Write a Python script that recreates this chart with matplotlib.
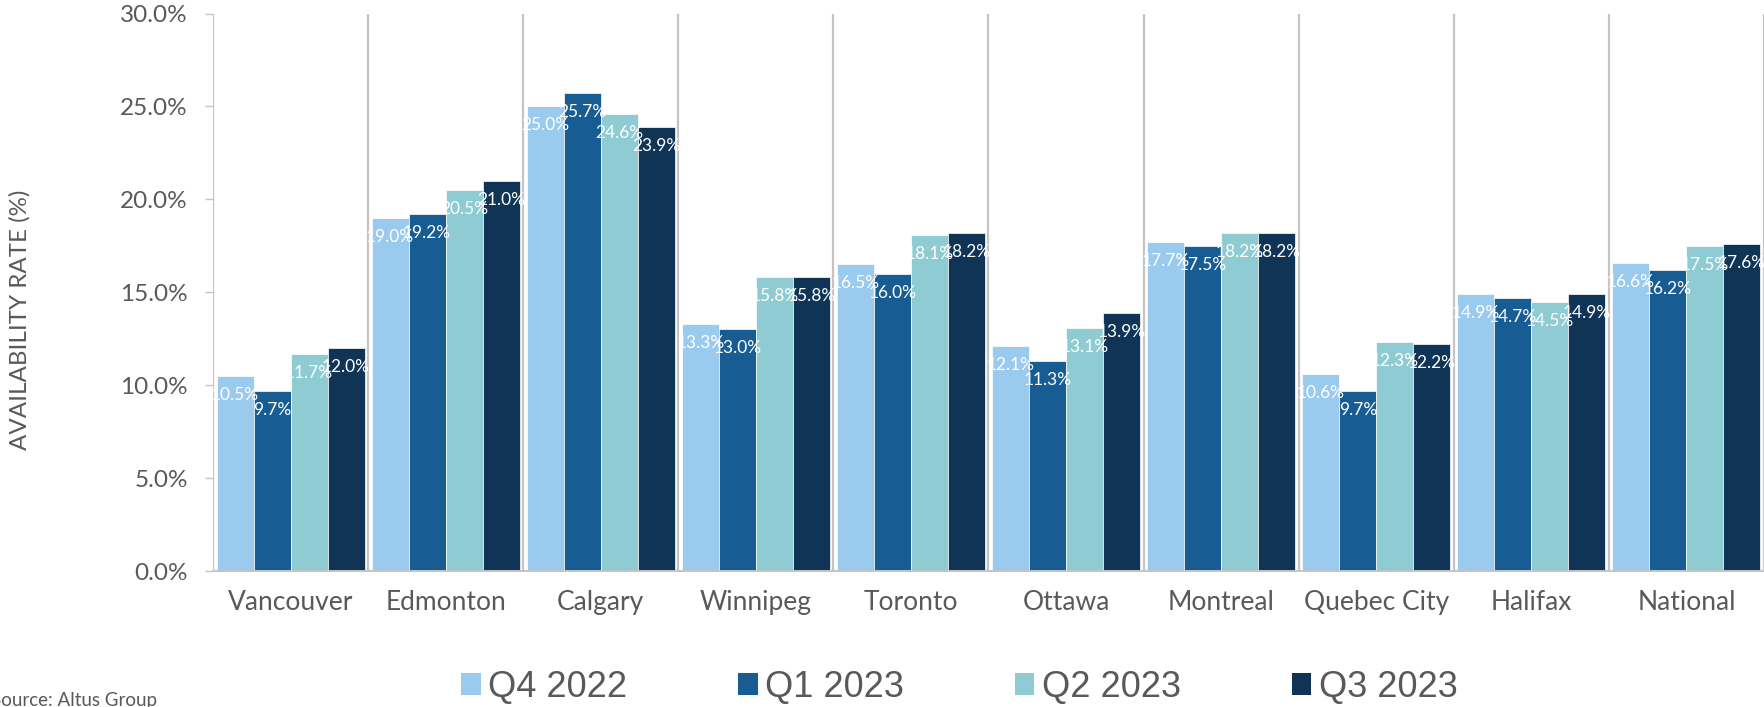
import matplotlib
matplotlib.use("Agg")
import matplotlib.pyplot as plt
import numpy as np
from matplotlib.ticker import FuncFormatter, MultipleLocator
from matplotlib.patches import Patch

categories = ["Vancouver", "Edmonton", "Calgary", "Winnipeg", "Toronto",
              "Ottawa", "Montreal", "Quebec City", "Halifax", "National"]
q4_2022 = [10.5, 19.0, 25.0, 13.3, 16.5, 12.1, 17.7, 10.6, 14.9, 16.6]
q1_2023 = [9.7, 19.2, 25.7, 13.0, 16.0, 11.3, 17.5, 9.7, 14.7, 16.2]
q2_2023 = [11.7, 20.5, 24.6, 15.8, 18.1, 13.1, 18.2, 12.3, 14.5, 17.5]
q3_2023 = [12.0, 21.0, 23.9, 15.8, 18.2, 13.9, 18.2, 12.2, 14.9, 17.6]
series_names = ["Q4 2022", "Q1 2023", "Q2 2023", "Q3 2023"]
series = [q4_2022, q1_2023, q2_2023, q3_2023]
colors = ["#9ACBEF", "#175C93", "#8FCBD2", "#0F3456"]

text_gray = "#595959"
line_gray = "#C4C4C4"

fig = plt.figure(figsize=(17.65, 7.07), dpi=100)
ax = fig.add_axes([213/1765, 1 - 571/707, (1764 - 213)/1765, (571 - 13.5)/707])

x = np.arange(len(categories))
bw = 0.2385
for i, (name, vals, c) in enumerate(zip(series_names, series, colors)):
    pos = x + (i - 1.5) * bw
    ax.bar(pos, vals, width=bw, color=c, edgecolor="white", linewidth=0.5,
           zorder=2, label=name)
    for xp, v in zip(pos, vals):
        ax.annotate(f"{v:.1f}%", (xp, v), xytext=(0, -19), textcoords="offset pixels",
                    ha="center", va="center", color="white", fontsize=12.5,
                    family="Lato", zorder=3)

ax.set_xlim(-0.5, len(categories) - 0.5)
ax.set_ylim(0, 30)
for b in np.arange(-0.5, len(categories), 1.0):
    ax.axvline(b, color=line_gray, lw=1.6, zorder=1)

ax.yaxis.set_major_locator(MultipleLocator(5))
ax.yaxis.set_major_formatter(FuncFormatter(lambda v, p: f"{v:.1f}%"))
ax.set_xticks(x)
ax.set_xticklabels(categories)

for s in ["top", "right", "left"]:
    ax.spines[s].set_visible(False)
ax.spines["bottom"].set_color(line_gray)
ax.spines["bottom"].set_linewidth(1.4)

ax.tick_params(axis="y", length=6, width=1, color=line_gray, pad=12,
               labelsize=17.5, labelcolor=text_gray)
ax.tick_params(axis="x", length=0, pad=14, labelsize=19, labelcolor=text_gray)
for lab in ax.get_xticklabels() + ax.get_yticklabels():
    lab.set_family("Lato")

fig.text(20/1765, 1 - 320/707, "AVAILABILITY RATE (%)", rotation=90, ha="center",
         va="center", fontsize=17.4, color=text_gray, family="Lato")

handles = [Patch(facecolor=c, edgecolor="none") for c in colors]
leg = fig.legend(handles, series_names, loc="center", bbox_to_anchor=(959/1765, 1 - 687/707),
                 ncol=4, frameon=False, handlelength=0.55, handleheight=0.55,
                 handletextpad=0.2, columnspacing=3.07,
                 prop={"family": "Liberation Sans", "size": 26})
for t in leg.get_texts():
    t.set_color(text_gray)

fig.text(-9/1765, 1 - 706/707, "Source: Altus Group", ha="left", va="baseline",
         fontsize=13.5, color=text_gray, family="Lato")

fig.savefig("out.png", dpi=100)
